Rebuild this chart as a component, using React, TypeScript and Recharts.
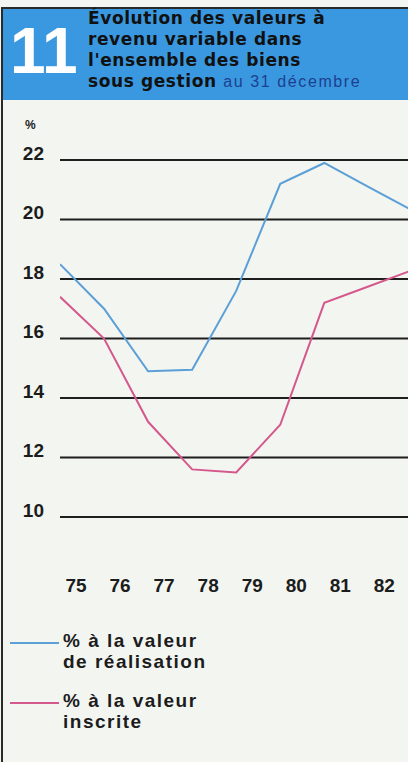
import React from 'react'
import {CartesianGrid, Line, LineChart, XAxis, YAxis} from 'recharts'

// valeurs au 31 décembre de chaque année
const annees = [74, 75, 76, 77, 78, 79, 80, 81, 82]
const valeurRealisation = [18.5, 17.0, 14.9, 14.95, 17.6, 21.2, 21.9, 21.1, 20.3]
const valeurInscrite = [17.4, 16.0, 13.2, 11.6, 11.5, 13.1, 17.2, 17.75, 18.3]
const anneesAxe = [75, 76, 77, 78, 79, 80, 81, 82]
const pourcentTicks = [10, 12, 14, 16, 18, 20, 22]

const BLEU = '#5b9fd6'
const ROSE = '#d4588c'
const FOND = '#f3f5f1'
const SANS = '"Liberation Sans", Arial, sans-serif'

// le 31 décembre d'une année tombe au début de l'année suivante sur l'axe
const data = annees.map((a, i) => ({
    fin: a + 1,
    realisation: valeurRealisation[i],
    inscrite: valeurInscrite[i],
}))

const YTick = ({y, payload}: any) => (
    <text x={44} y={y - 7} textAnchor='end' dominantBaseline='central'
          fontFamily={SANS} fontWeight='bold' fontSize={19} fill='#1c1c1c'>
        {payload.value}
    </text>
)

const XTick = ({x, y, payload}: any) => (
    <text x={x + 16} y={y + 60} textAnchor='middle' dominantBaseline='central'
          fontFamily={SANS} fontWeight='bold' fontSize={19} fill='#1c1c1c'>
        {payload.value}
    </text>
)

type LegendProps = {
    color: string
    top: number
    lines: string[]
}
const LegendItem = ({color, top, lines}: LegendProps) => (
    <div style={{position: 'absolute', left: 0, top}}>
        <div style={{position: 'absolute', left: 10, top: 12, width: 49, height: 2, background: color}} />
        <div style={{position: 'absolute', left: 63, top: 0, width: 200, fontFamily: SANS, fontWeight: 'bold',
            fontSize: 19, lineHeight: '21px', letterSpacing: 1.5, color: '#1c1c1c'}}>
            {lines.map(l => <div key={l}>{l}</div>)}
        </div>
    </div>
)

const App = () => {
    return (
        <div style={{position: 'fixed', left: 0, top: 0, width: 408, height: 762, background: FOND, overflow: 'hidden'}}>
            {/* bordure */}
            <div style={{position: 'absolute', left: 1, top: 8, width: 2, height: 754, background: '#2a2a2a'}} />
            <div style={{position: 'absolute', left: 1, top: 7, width: 407, height: 2, background: '#2a2a2a'}} />

            {/* en-tête */}
            <div style={{position: 'absolute', left: 3, top: 9, width: 405, height: 91, background: '#3a98e0'}}>
                <div style={{position: 'absolute', left: 7, top: 2, fontFamily: SANS, fontWeight: 'bold', fontSize: 64,
                    color: '#ffffff', lineHeight: '80px'}}>11</div>
                <div style={{position: 'absolute', left: 85, top: -1, width: 320, fontFamily: '"DejaVu Sans", sans-serif',
                    fontWeight: 'bold', fontSize: 17, lineHeight: '21px', letterSpacing: 0.6, color: '#111111',
                    whiteSpace: 'nowrap'}}>
                    <div>Évolution des valeurs à</div>
                    <div>revenu variable dans</div>
                    <div>l'ensemble des biens</div>
                    <div>sous gestion <span style={{fontFamily: SANS, fontWeight: 'normal', fontSize: 16,
                        letterSpacing: 1.6, color: '#1d3f8f'}}>au 31 décembre</span></div>
                </div>
            </div>

            <div style={{position: 'absolute', left: 25, top: 118, fontFamily: SANS, fontWeight: 'bold', fontSize: 12,
                color: '#1c1c1c'}}>%</div>

            <div style={{position: 'absolute', left: 0, top: 0}}>
                <LineChart width={408} height={762} data={data}
                           margin={{top: 160, right: 0, bottom: 185, left: 0}}>
                    <CartesianGrid vertical={false} stroke='#1e1e1e' strokeWidth={2} />
                    <XAxis dataKey='fin' type='number' domain={[75, 82.9]} allowDataOverflow
                           ticks={anneesAxe} tick={<XTick />} axisLine={false} tickLine={false} height={60} />
                    <YAxis type='number' domain={[10, 22]} ticks={pourcentTicks} tick={<YTick />}
                           axisLine={false} tickLine={false} width={60} />
                    <Line dataKey='realisation' type='linear' stroke={BLEU} strokeWidth={2} dot={false}
                          isAnimationActive={false} />
                    <Line dataKey='inscrite' type='linear' stroke={ROSE} strokeWidth={2} dot={false}
                          isAnimationActive={false} />
                </LineChart>
            </div>

            <LegendItem color={BLEU} top={630} lines={['% à la valeur', 'de réalisation']} />
            <LegendItem color={ROSE} top={690} lines={['% à la valeur', 'inscrite']} />
        </div>
    )
}

export default App
